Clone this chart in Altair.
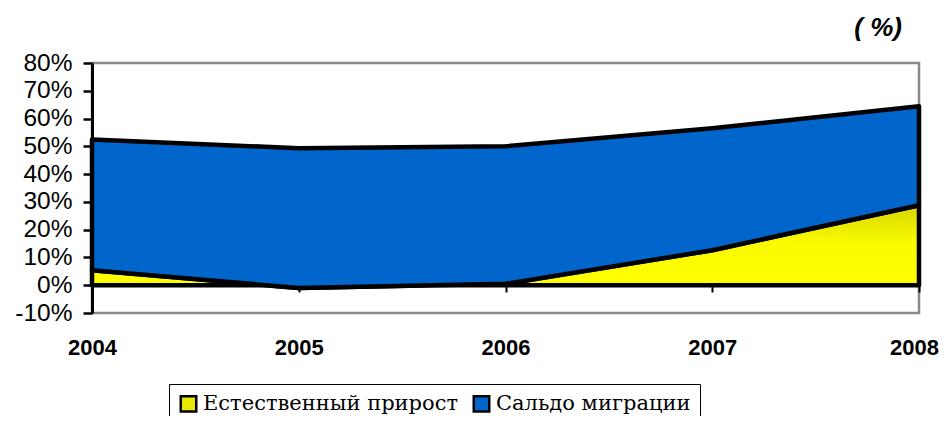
import altair as alt
import pandas as pd

years = [2004, 2005, 2006, 2007, 2008]
natural = [5.4, -1.0, 0.5, 12.6, 28.8]
migration = [47.1, 50.3, 49.5, 43.9, 35.6]
series = ["Естественный прирост", "Сальдо миграции"]
y_ticks = [-10, 0, 10, 20, 30, 40, 50, 60, 70, 80]

rows = []
for yr, n, m in zip(years, natural, migration):
    rows.append({"year": yr, "series": series[0], "lo": 0.0, "hi": n})
    rows.append({"year": yr, "series": series[1], "lo": n, "hi": n + m})
df = pd.DataFrame(rows)

x = alt.X("year:Q", scale=alt.Scale(domain=[2004, 2008], nice=False, zero=False),
          axis=alt.Axis(values=years, format="d", title=None, grid=False,
                        offset=-28, labelFlush=False,
                        labelOffset={"condition": {"test": "datum.value == 2008", "value": -5},
                                     "value": 0},
                        labelFont="Liberation Sans", labelFontWeight="bold",
                        labelFontSize=22, labelColor="black", labelPadding=45,
                        domainColor="black", domainWidth=2.5,
                        tickColor="black", tickWidth=2, tickSize=7))
y = alt.Y("lo:Q", scale=alt.Scale(domain=[-10, 80], nice=False, zero=False),
          axis=alt.Axis(values=y_ticks, labelExpr="datum.value + '%'", title=None,
                        grid=False, labelFont="Liberation Sans", labelFontSize=24.5,
                        labelColor="black", labelPadding=11,
                        domainColor="black", domainWidth=3,
                        tickColor="black", tickWidth=2.5, tickSize=9))

yellow_grad = alt.Gradient(
    gradient="linear",
    stops=[alt.GradientStop(color="#ffff00", offset=0),
           alt.GradientStop(color="#fafa00", offset=0.55),
           alt.GradientStop(color="#d6d600", offset=1)],
    x1=0, x2=0, y1=1, y2=0)

blue = alt.Chart(df).transform_filter(alt.datum.series == series[1]).mark_area(
    stroke="black", strokeWidth=4.5, strokeJoin="round", opacity=1
).encode(
    x=x, y=y, y2="hi:Q",
    color=alt.Color("series:N", scale=alt.Scale(domain=series, range=["#e8e800", "#0066cc"]),
                    legend=alt.Legend(title=None, orient="none", legendX=77, legendY=321,
                                      direction="horizontal", symbolType="square",
                                      symbolSize=240, symbolStrokeColor="black",
                                      symbolStrokeWidth=2.5, symbolOpacity=1,
                                      labelFont="DejaVu Serif", labelFontSize=21,
                                      labelColor="black", labelLimit=400,
                                      columnPadding=9, labelOffset=4,
                                      padding=9, strokeColor="black", fillColor="white",
                                      ))
)

yellow = alt.Chart(df).transform_filter(alt.datum.series == series[0]).mark_area(
    fill=yellow_grad, stroke="black", strokeWidth=4.5, strokeJoin="round", opacity=1
).encode(x=x, y=y, y2="hi:Q")

chart = alt.layer(yellow, blue).properties(
    width=827, height=250,
    autosize=alt.AutoSizeParams(type="none"),
    padding={"left": 84, "top": 55, "right": 20, "bottom": 103},
    title=alt.TitleParams("( %)", anchor="end", frame="group", dx=-17, offset=9,
                          font="Liberation Sans", fontSize=26, fontStyle="italic",
                          fontWeight="bold", color="black"),
).configure_view(stroke="#888888", strokeWidth=2.5)

chart.save("out.html", embed_options={"renderer": "svg", "actions": False})
